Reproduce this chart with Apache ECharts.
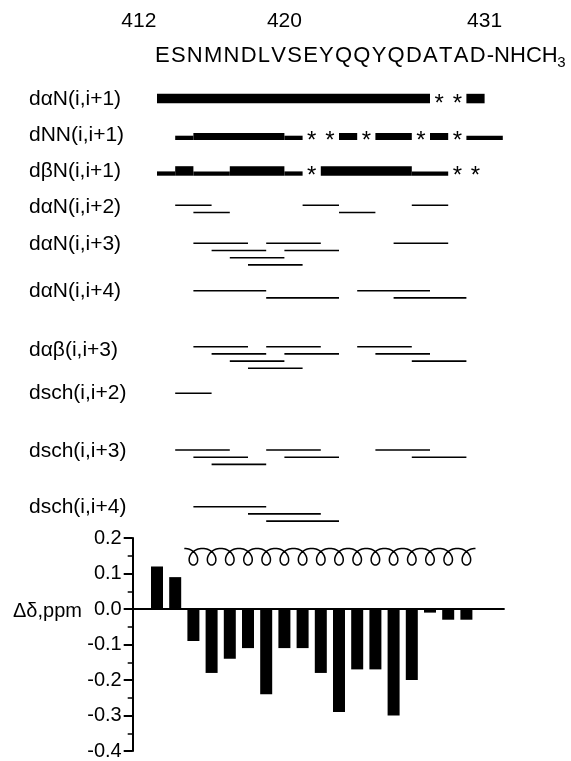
<!DOCTYPE html>
<html><head><meta charset="utf-8">
<script src="https://cdn.jsdelivr.net/npm/echarts@6/dist/echarts.min.js"></script>
<style>html,body{margin:0;padding:0;background:#fff}#c{width:571px;height:761px}</style>
</head><body><div id="c"></div>
<script>
// ================= DATA =================
const residueTicks = [412, 420, 431];
const sequence = ['E','S','N','M','N','D','L','V','S','E','Y','Q','Q','Y','Q','D','A','T','A','D'];
const cTerm = '-NHCH';
const cTermSub = '3';
const rowNames = ['dαN(i,i+1)','dNN(i,i+1)','dβN(i,i+1)','dαN(i,i+2)','dαN(i,i+3)','dαN(i,i+4)','dαβ(i,i+3)','dsch(i,i+2)','dsch(i,i+3)','dsch(i,i+4)'];
// sequential NOEs [from, to, intensity]  S strong, M medium, W weak, A ambiguous (*)
const dAN1 = [[413,428,'S'],[428,429,'A'],[429,430,'A'],[430,431,'S']];
const dNN1 = [[414,415,'W'],[415,420,'M'],[420,421,'W'],[421,422,'A'],[422,423,'A'],[423,424,'M'],[424,425,'A'],[425,427,'M'],[427,428,'A'],[428,429,'M'],[429,430,'A'],[430,432,'W']];
const dBN1 = [[413,414,'W'],[414,415,'S'],[415,417,'W'],[417,420,'S'],[420,421,'W'],[421,422,'A'],[422,427,'S'],[427,429,'W'],[429,430,'A'],[430,431,'A']];
// medium range NOEs [from, to]
const dAN2 = [[414,416],[415,417],[421,423],[423,425],[427,429]];
const dAN3 = [[415,418],[416,419],[417,420],[418,421],[419,422],[420,423],[426,429]];
const dAN4 = [[415,419],[419,423],[424,428],[426,430]];
const dAB3 = [[415,418],[416,419],[417,420],[418,421],[419,422],[420,423],[424,427],[425,428],[427,430]];
const dSC2 = [[414,416]];
const dSC3 = [[414,417],[415,418],[416,419],[419,422],[420,423],[425,428],[427,430]];
const dSC4 = [[415,419],[418,422],[419,423]];
// chemical shift differences
const shiftResidues = [413,414,415,416,417,418,419,420,421,422,423,424,425,426,427,428,429,430];
const shiftValues = [0.12,0.09,-0.09,-0.18,-0.14,-0.11,-0.24,-0.11,-0.11,-0.18,-0.29,-0.17,-0.17,-0.30,-0.20,-0.01,-0.03,-0.03];
const helixRange = [414.5, 430.5];
const yTitle = 'Δδ,ppm';

// ================= LAYOUT (positions / styles) =================
const LAY = {
  left: 132.7, right: 504, xMin: 411.665, xMax: 432.066,
  barTop: 538.1, barH: 217.8,
  noeTop: 38,
  seqBase: [103.3, 140, 175.7],
  mrY0: [205.3, 243.3, 290.7, 346.7, 393.3, 450, 506.7],
  levelGap: 7.2,
  labelX: 29,
  labelY: [99, 135, 171, 207.5, 244, 291, 350, 393.3, 451, 507.5],
  helixY: 556.7, helixAmp: 8.3,
  seqY: 56, seqLeft: 155, seqRight: 566, seqFont: 22,
  starFont: 24, starOff: 1
};
const FONT = '"Liberation Sans", Arial, sans-serif';
const THICK = {S: 9.5, M: 7, W: 4.3};

const seqRows = [dAN1, dNN1, dBN1];
const mrRows = [dAN2, dAN3, dAN4, dAB3, dSC2, dSC3, dSC4];

const seqData = [];
seqRows.forEach((rows, ri) => rows.forEach(s => seqData.push([s[0], s[1], ri, 'AWMS'.indexOf(s[2])])));
const mrData = [];
mrRows.forEach((rows, ri) => {
  const ends = [];
  rows.forEach(s => {
    let lv = 0;
    while (lv < ends.length && s[0] <= ends[lv]) lv++;
    ends[lv] = s[1];
    mrData.push([s[0], s[1], ri, lv]);
  });
});

const chart = echarts.init(document.getElementById('c'), null, {renderer: 'canvas'});

// sequence text layout (letter-spaced)
const ctx = document.createElement('canvas').getContext('2d');
const chars = sequence.concat(cTerm.split(''));
const subFont = Math.round(LAY.seqFont * 0.7);
ctx.font = subFont + 'px ' + FONT;
const subW = ctx.measureText(cTermSub).width;
ctx.font = LAY.seqFont + 'px ' + FONT;
const widths = chars.map(c => ctx.measureText(c).width);
const natural = widths.reduce((a, b) => a + b, 0) + subW;
const track = (LAY.seqRight - LAY.seqLeft - natural) / (sequence.length);
let cx = LAY.seqLeft;
const graphics = [];
chars.forEach((c, i) => {
  graphics.push({type: 'text', x: cx, y: LAY.seqY, silent: true,
    style: {text: c, font: LAY.seqFont + 'px ' + FONT, fill: '#000', textAlign: 'left', textVerticalAlign: 'middle'}});
  cx += widths[i] + (i < sequence.length ? track : 0);
});
graphics.push({type: 'text', x: cx - 0.5, y: LAY.seqY + 7, silent: true,
  style: {text: cTermSub, font: subFont + 'px ' + FONT, fill: '#000', textAlign: 'left', textVerticalAlign: 'middle'}});
rowNames.forEach((n, i) => graphics.push({type: 'text', x: LAY.labelX, y: LAY.labelY[i], silent: true,
  style: {text: n, font: '21px ' + FONT, fill: '#000', textAlign: 'left', textVerticalAlign: 'middle'}}));
graphics.push({type: 'text', x: 13, y: 611, silent: true,
  style: {text: yTitle, font: '20px ' + FONT, fill: '#000', textAlign: 'left', textVerticalAlign: 'middle'}});

const option = {
  animation: false,
  backgroundColor: '#fff',
  grid: [
    {left: LAY.left, width: LAY.right - LAY.left, top: LAY.barTop, height: LAY.barH},
    {left: LAY.left, width: LAY.right - LAY.left, top: LAY.noeTop, height: 761 - LAY.noeTop}
  ],
  xAxis: [
    {gridIndex: 0, type: 'value', min: LAY.xMin, max: LAY.xMax,
     axisLine: {show: true, onZero: true, lineStyle: {color: '#000', width: 1.8}},
     axisTick: {show: false}, axisLabel: {show: false}, splitLine: {show: false}},
    {gridIndex: 1, type: 'value', min: LAY.xMin, max: LAY.xMax, position: 'top',
     axisLine: {show: false}, axisTick: {show: false}, splitLine: {show: false},
     axisLabel: {show: true, customValues: residueTicks, fontSize: 21, fontFamily: FONT, color: '#000', margin: 6}}
  ],
  yAxis: [
    {gridIndex: 0, type: 'value', min: -0.4, max: 0.2, interval: 0.1,
     axisLine: {show: true, onZero: false, lineStyle: {color: '#000', width: 2}},
     axisTick: {show: true, length: 9, lineStyle: {color: '#000', width: 2}},
     minorTick: {show: true, splitNumber: 2, length: 5, lineStyle: {color: '#000', width: 1.5}},
     splitLine: {show: false},
     axisLabel: {fontSize: 20, fontFamily: FONT, color: '#000', margin: 11,
       formatter: v => (Math.abs(v) < 1e-9 ? 0 : v).toFixed(1)}},
    {gridIndex: 1, type: 'value', min: LAY.noeTop, max: 761, inverse: true, show: false}
  ],
  graphic: graphics,
  series: [
    {type: 'bar', xAxisIndex: 0, yAxisIndex: 0, barWidth: 12,
     itemStyle: {color: '#000'},
     data: shiftResidues.map((r, i) => [r, shiftValues[i]])},
    {type: 'custom', xAxisIndex: 1, yAxisIndex: 1, encode: {x: [0, 1], y: 2},
     data: seqData,
     renderItem: function (params, api) {
       const from = api.value(0), to = api.value(1), row = api.value(2), code = api.value(3);
       const base = LAY.seqBase[row];
       const p1 = api.coord([from, base]), p2 = api.coord([to, base]);
       if (code === 0) {
         return {type: 'text', x: (p1[0] + p2[0]) / 2, y: p1[1] + LAY.starOff,
           style: {text: '*', font: LAY.starFont + 'px ' + FONT, fill: '#000',
             textAlign: 'center', textVerticalAlign: 'middle', align: 'center', verticalAlign: 'middle'}};
       }
       const h = THICK['AWMS'[code]];
       return {type: 'rect', shape: {x: p1[0], y: p1[1] - h, width: p2[0] - p1[0], height: h},
         style: {fill: '#000'}};
     }},
    {type: 'custom', xAxisIndex: 1, yAxisIndex: 1, encode: {x: [0, 1], y: 2},
     data: mrData,
     renderItem: function (params, api) {
       const from = api.value(0), to = api.value(1), row = api.value(2), lv = api.value(3);
       const y = LAY.mrY0[row] + lv * LAY.levelGap;
       const p1 = api.coord([from, y]), p2 = api.coord([to, y]);
       return {type: 'line', shape: {x1: p1[0], y1: p1[1], x2: p2[0], y2: p2[1]},
         style: {stroke: '#000', lineWidth: 1.6}};
     }},
    {type: 'custom', xAxisIndex: 1, yAxisIndex: 1, encode: {x: [0, 1]},
     data: [helixRange],
     renderItem: function (params, api) {
       const a = api.value(0), b = api.value(1);
       const s = api.coord([a, LAY.helixY]), e = api.coord([b, LAY.helixY]);
       const turns = Math.round(b - a);
       const pitch = (e[0] - s[0]) / turns, r = pitch / (2 * Math.PI), amp = LAY.helixAmp;
       const pts = [], steps = turns * 48;
       for (let i = 0; i <= steps; i++) {
         const t = -Math.PI + 2 * Math.PI * turns * i / steps;
         pts.push([s[0] + r * (t + Math.PI) - amp * Math.sin(t), s[1] + amp * Math.cos(t)]);
       }
       return {type: 'polyline', shape: {points: pts}, style: {stroke: '#000', fill: null, lineWidth: 1.5}};
     }}
  ]
};
chart.setOption(option);
</script>
</body></html>
